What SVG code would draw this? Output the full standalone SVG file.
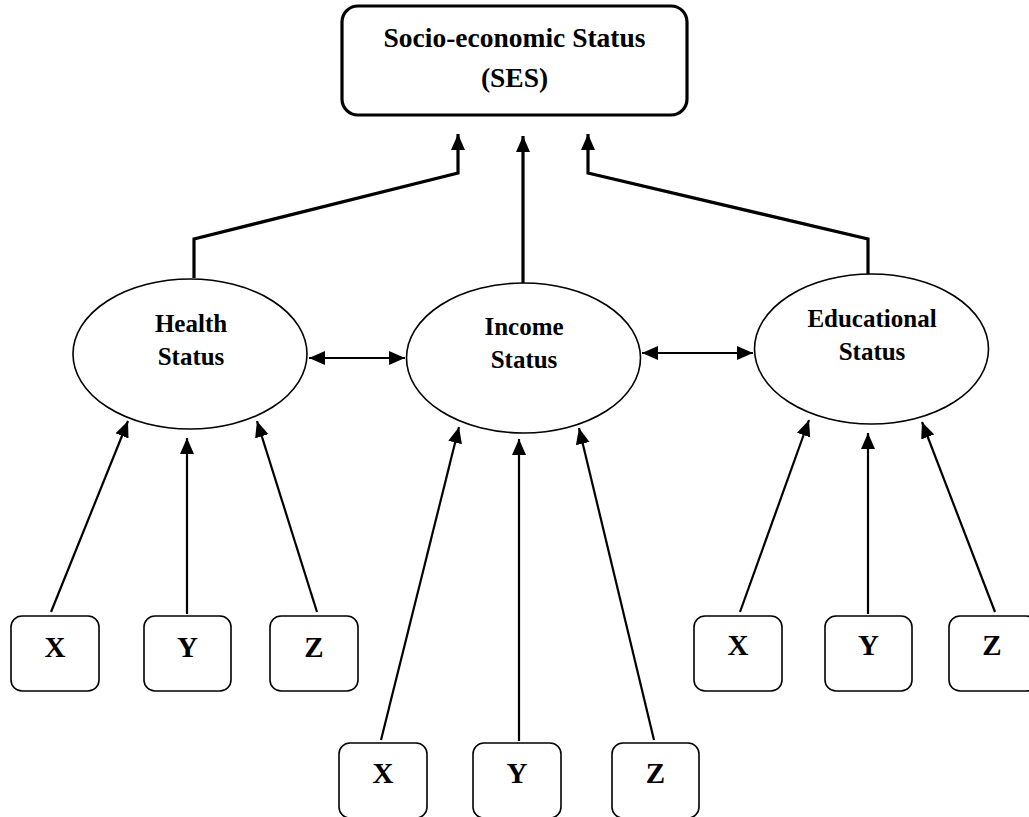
<svg xmlns="http://www.w3.org/2000/svg" width="1029" height="817" viewBox="0 0 1029 817">
<style>
text{font-family:"Liberation Serif","Times New Roman",serif;font-weight:bold;fill:#000;text-anchor:middle}
.ell{fill:#fff;stroke:#000;stroke-width:1.6}
.box{fill:#fff;stroke:#000;stroke-width:1.6}
.top{fill:#fff;stroke:#000;stroke-width:3.2}
.thin{fill:none;stroke:#000;stroke-width:2.2}
.thick{fill:none;stroke:#000;stroke-width:3.2}
.lbl{font-size:25px}
.ltr{font-size:29px}
</style>
<defs>
<marker id="ah" markerUnits="userSpaceOnUse" markerWidth="17" markerHeight="15" refX="16" refY="7" orient="auto-start-reverse">
<path d="M0,0 L16,7 L0,14 z" fill="#000"/>
</marker>
</defs>
<rect width="1029" height="817" fill="#fff"/>
<g id="connectors">
<path class="thick" d="M194,278 L194,239 L458,173 L458,134" marker-end="url(#ah)"/>
<path class="thick" d="M523,283 L523,136" marker-end="url(#ah)"/>
<path class="thick" d="M868,275 L868,239 L588,173 L588,134" marker-end="url(#ah)"/>
<line class="thin" x1="309" y1="358" x2="405" y2="358" marker-start="url(#ah)" marker-end="url(#ah)"/>
<line class="thin" x1="642" y1="353" x2="753" y2="353" marker-start="url(#ah)" marker-end="url(#ah)"/>
<line class="thin" x1="51" y1="612" x2="128" y2="421" marker-end="url(#ah)"/>
<line class="thin" x1="187" y1="614" x2="187" y2="438" marker-end="url(#ah)"/>
<line class="thin" x1="317" y1="612" x2="257" y2="421" marker-end="url(#ah)"/>
<line class="thin" x1="381" y1="740" x2="459" y2="427" marker-end="url(#ah)"/>
<line class="thin" x1="519" y1="741" x2="519" y2="439" marker-end="url(#ah)"/>
<line class="thin" x1="654" y1="740" x2="579" y2="428" marker-end="url(#ah)"/>
<line class="thin" x1="740" y1="612" x2="809" y2="420" marker-end="url(#ah)"/>
<line class="thin" x1="868" y1="614" x2="868" y2="433" marker-end="url(#ah)"/>
<line class="thin" x1="995" y1="612" x2="922" y2="422" marker-end="url(#ah)"/>
</g>
<g id="ses">
<rect class="top" x="342" y="6" width="345" height="109" rx="16"/>
<text x="514.5" y="47" font-size="27.5">Socio-economic Status</text>
<text x="514.5" y="87" font-size="27.5">(SES)</text>
</g>
<g id="health">
<ellipse class="ell" cx="190" cy="354" rx="117" ry="75"/>
<text class="lbl" x="191" y="332">Health</text>
<text class="lbl" x="191" y="365">Status</text>
</g>
<g id="income">
<ellipse class="ell" cx="523.5" cy="358" rx="117" ry="75"/>
<text class="lbl" x="524" y="335">Income</text>
<text class="lbl" x="524" y="368">Status</text>
</g>
<g id="education">
<ellipse class="ell" cx="871.5" cy="349" rx="117" ry="75"/>
<text class="lbl" x="872" y="327">Educational</text>
<text class="lbl" x="872" y="360">Status</text>
</g>
<g id="h-x"><rect class="box" x="11" y="616" width="88" height="75" rx="11"/><text class="ltr" x="55" y="657">X</text></g>
<g id="h-y"><rect class="box" x="144" y="616" width="87" height="75" rx="11"/><text class="ltr" x="187.5" y="657">Y</text></g>
<g id="h-z"><rect class="box" x="270" y="616" width="88" height="75" rx="11"/><text class="ltr" x="314" y="657">Z</text></g>
<g id="i-x"><rect class="box" x="339" y="743" width="88" height="75" rx="11"/><text class="ltr" x="383" y="783">X</text></g>
<g id="i-y"><rect class="box" x="473" y="743" width="88" height="75" rx="11"/><text class="ltr" x="517" y="783">Y</text></g>
<g id="i-z"><rect class="box" x="612" y="743" width="87" height="75" rx="11"/><text class="ltr" x="655.5" y="783">Z</text></g>
<g id="e-x"><rect class="box" x="694" y="616" width="88" height="75" rx="11"/><text class="ltr" x="738" y="655">X</text></g>
<g id="e-y"><rect class="box" x="825" y="616" width="87" height="75" rx="11"/><text class="ltr" x="868.5" y="655" font-weight="normal">Y</text></g>
<g id="e-z"><rect class="box" x="949" y="616" width="88" height="75" rx="11"/><text class="ltr" x="992" y="655">Z</text></g>
</svg>
